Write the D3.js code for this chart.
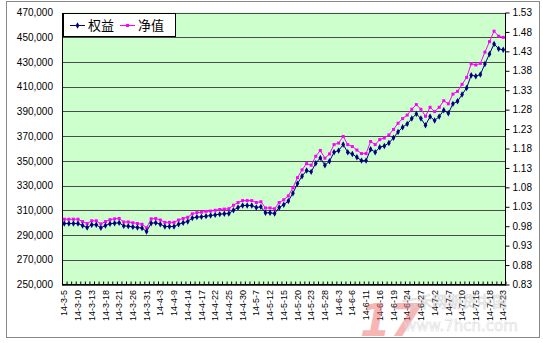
<!DOCTYPE html>
<html>
<head>
<meta charset="utf-8">
<script src="https://cdn.jsdelivr.net/npm/d3@7"></script>
<style>
body { margin: 0; background: #fff; }
svg { display: block; }
</style>
</head>
<body>
<svg id="chart" width="543" height="343"></svg>
<script>
// trading days (categories)
var dates = [
    "14-3-5", "14-3-6", "14-3-7", "14-3-10", "14-3-11", "14-3-12", "14-3-13", "14-3-14", "14-3-17", "14-3-18",
    "14-3-19", "14-3-20", "14-3-21", "14-3-24", "14-3-25", "14-3-26", "14-3-27", "14-3-28", "14-3-31",
    "14-4-1", "14-4-2", "14-4-3", "14-4-4", "14-4-8", "14-4-9", "14-4-10", "14-4-11", "14-4-14", "14-4-15",
    "14-4-16", "14-4-17", "14-4-18", "14-4-21", "14-4-22", "14-4-23", "14-4-24", "14-4-25", "14-4-28",
    "14-4-29", "14-4-30",
    "14-5-5", "14-5-6", "14-5-7", "14-5-8", "14-5-9", "14-5-12", "14-5-13", "14-5-14", "14-5-15", "14-5-16",
    "14-5-19", "14-5-20", "14-5-21", "14-5-22", "14-5-23", "14-5-26", "14-5-27", "14-5-28", "14-5-29", "14-5-30",
    "14-6-3", "14-6-4", "14-6-5", "14-6-6", "14-6-9", "14-6-10", "14-6-11", "14-6-12", "14-6-13", "14-6-16",
    "14-6-17", "14-6-18", "14-6-19", "14-6-20", "14-6-23", "14-6-24", "14-6-25", "14-6-26", "14-6-27", "14-6-30",
    "14-7-1", "14-7-2", "14-7-3", "14-7-4", "14-7-7", "14-7-8", "14-7-9", "14-7-10", "14-7-11", "14-7-14",
    "14-7-15", "14-7-16", "14-7-17", "14-7-18", "14-7-21", "14-7-22", "14-7-23"
];

// 权益 (left axis)
var equity = [
    299300, 299300, 299300, 299300, 297700, 296100, 298300, 298300, 295800, 297700,
    299100, 299600, 299900, 297400, 297200, 296600, 296100, 295600, 292900, 299600,
    299900, 298800, 296900, 296900, 296900, 298800, 299900, 301000, 303700, 304500,
    304700, 305300, 305800, 306300, 306900, 307200, 307400, 310100, 312300, 313900,
    313900, 313900, 312300, 312800, 308000, 308000, 307400, 312300, 314500, 317500,
    323800, 331600, 337600, 342200, 341100, 348100, 352400, 346500, 349700, 357000,
    358300, 363200, 357000, 355600, 352900, 350200, 350200, 359400, 357000, 361000,
    362100, 364500, 368600, 373400, 377200, 379900, 384200, 388000, 384200, 378800,
    385800, 382600, 385800, 391000, 388500, 396100, 398200, 403600, 409000, 419300,
    418500, 419800, 428400, 436500, 444600, 440600, 439800
];

// 净值 (right axis)
var nav = [
    0.998, 0.998, 0.998, 0.998, 0.992, 0.987, 0.994, 0.994, 0.986, 0.992,
    0.997, 0.999, 1.000, 0.991, 0.991, 0.989, 0.987, 0.985, 0.976, 0.999,
    1.000, 0.996, 0.990, 0.990, 0.990, 0.996, 1.000, 1.003, 1.012, 1.015,
    1.016, 1.018, 1.019, 1.021, 1.023, 1.024, 1.025, 1.034, 1.041, 1.046,
    1.046, 1.046, 1.041, 1.043, 1.027, 1.027, 1.025, 1.041, 1.048, 1.058,
    1.079, 1.105, 1.125, 1.141, 1.137, 1.160, 1.175, 1.155, 1.166, 1.190,
    1.194, 1.211, 1.190, 1.185, 1.176, 1.167, 1.167, 1.198, 1.190, 1.203,
    1.207, 1.215, 1.229, 1.245, 1.257, 1.266, 1.281, 1.293, 1.281, 1.263,
    1.286, 1.275, 1.286, 1.303, 1.295, 1.320, 1.327, 1.345, 1.363, 1.398,
    1.395, 1.399, 1.428, 1.455, 1.482, 1.469, 1.466
];

var leftTicks = [250000, 270000, 290000, 310000, 330000, 350000, 370000, 390000, 410000, 430000, 450000, 470000];
var rightTicks = [0.83, 0.88, 0.93, 0.98, 1.03, 1.08, 1.13, 1.18, 1.23, 1.28, 1.33, 1.38, 1.43, 1.48, 1.53];

var seriesNames = ["权益", "净值"];

var plotLeft = 62, plotRight = 505.5, plotTop = 12.5, plotBottom = 284.5;

var svg = d3.select("#chart");

// chart area border
svg.append("rect")
    .attr("x", 6.5).attr("y", 1.5)
    .attr("width", 533).attr("height", 336)
    .attr("fill", "#fff")
    .attr("stroke", "#888");

var x = d3.scalePoint().domain(dates).range([plotLeft, plotRight]).padding(0.5);
var yL = d3.scaleLinear().domain([250000, 470000]).range([plotBottom, plotTop]);
var yR = d3.scaleLinear().domain([0.83, 1.53]).range([plotBottom, plotTop]);

// plot background
svg.append("rect")
    .attr("x", plotLeft).attr("y", plotTop)
    .attr("width", plotRight - plotLeft).attr("height", plotBottom - plotTop)
    .attr("fill", "#ccffcc");

// grid
var grid = svg.append("g")
    .attr("transform", "translate(" + plotLeft + ",0)")
    .call(d3.axisLeft(yL).tickValues(leftTicks).tickSize(-(plotRight - plotLeft)).tickFormat(""));
grid.select(".domain").remove();
grid.selectAll("line").attr("stroke", "#4a4a4a").attr("shape-rendering", "crispEdges");

// left axis labels
var axL = svg.append("g")
    .attr("transform", "translate(" + plotLeft + ",0)")
    .call(d3.axisLeft(yL).tickValues(leftTicks).tickSize(0).tickPadding(9).tickFormat(d3.format(",")));
axL.select(".domain").remove();
axL.selectAll("text").attr("font-family", "Liberation Sans, Arial, sans-serif").attr("font-size", 10).attr("fill", "#000");

// right axis
var axR = svg.append("g")
    .attr("transform", "translate(" + plotRight + ",0)")
    .call(d3.axisRight(yR).tickValues(rightTicks).tickSize(4).tickPadding(3).tickFormat(d3.format(".2f")));
axR.select(".domain").remove();
axR.selectAll("line").attr("stroke", "#000");
axR.selectAll("text").attr("font-family", "Liberation Sans, Arial, sans-serif").attr("font-size", 10).attr("fill", "#000");

// category tick marks on bottom axis
var xb = d3.scaleLinear().domain([0, dates.length]).range([plotLeft, plotRight]);
var axB = svg.append("g")
    .attr("transform", "translate(0," + plotBottom + ")")
    .call(d3.axisBottom(xb).tickValues(d3.range(dates.length + 1)).tickSize(-3).tickFormat(""));
axB.select(".domain").remove();
axB.selectAll("line").attr("stroke", "#000");

// axis lines
svg.append("g").selectAll("line")
    .data([[plotLeft, plotTop, plotLeft, plotBottom], [plotLeft, plotBottom, plotRight, plotBottom], [plotRight, plotTop, plotRight, plotBottom]])
    .join("line")
    .attr("x1", function (d) { return d[0]; })
    .attr("y1", function (d) { return d[1]; })
    .attr("x2", function (d) { return d[2]; })
    .attr("y2", function (d) { return d[3]; })
    .attr("stroke", "#000")
    .attr("shape-rendering", "crispEdges");

// x labels, every third day
svg.append("g").selectAll("text")
    .data(dates.filter(function (d, i) { return i % 3 === 0; }))
    .join("text")
    .attr("transform", function (d) { return "translate(" + x(d) + "," + 290 + ") rotate(-90)"; })
    .attr("dy", "0.35em")
    .attr("text-anchor", "end")
    .attr("font-family", "Liberation Sans, Arial, sans-serif")
    .attr("font-size", 9)
    .text(function (d) { return d; });

// lines
var lineL = d3.line()
    .x(function (d, i) { return x(dates[i]); })
    .y(function (d) { return yL(d); });
var lineR = d3.line()
    .x(function (d, i) { return x(dates[i]); })
    .y(function (d) { return yR(d); });

svg.append("path")
    .datum(nav)
    .attr("fill", "none")
    .attr("stroke", "#ff00ff")
    .attr("stroke-width", 1)
    .attr("d", lineR);

svg.append("g").selectAll("path")
    .data(nav)
    .join("path")
    .attr("transform", function (d, i) { return "translate(" + x(dates[i]) + "," + yR(d) + ")"; })
    .attr("d", d3.symbol(d3.symbolSquare, 9))
    .attr("fill", "#ff00ff");

svg.append("path")
    .datum(equity)
    .attr("fill", "none")
    .attr("stroke", "#000080")
    .attr("stroke-width", 1)
    .attr("d", lineL);

svg.append("g").selectAll("path")
    .data(equity)
    .join("path")
    .attr("transform", function (d, i) { return "translate(" + x(dates[i]) + "," + yL(d) + ")"; })
    .attr("d", d3.symbol(d3.symbolDiamond, 12))
    .attr("fill", "#000080");

// legend
var legend = svg.append("g");
legend.append("rect")
    .attr("x", 63.5).attr("y", 13.5)
    .attr("width", 112).attr("height", 23)
    .attr("fill", "#fff")
    .attr("stroke", "#000");

var legendItems = [
    { name: seriesNames[0], color: "#000080", x0: 70, tx: 88, sym: d3.symbolDiamond, size: 12 },
    { name: seriesNames[1], color: "#ff00ff", x0: 120, tx: 138, sym: d3.symbolSquare, size: 9 }
];
legendItems.forEach(function (it) {
    legend.append("line")
        .attr("x1", it.x0).attr("x2", it.x0 + 15)
        .attr("y1", 25.5).attr("y2", 25.5)
        .attr("stroke", it.color);
    legend.append("path")
        .attr("transform", "translate(" + (it.x0 + 7.5) + ",25.5)")
        .attr("d", d3.symbol(it.sym, it.size))
        .attr("fill", it.color);
    legend.append("text")
        .attr("x", it.tx).attr("y", 30)
        .attr("font-family", "Noto Sans CJK SC, sans-serif")
        .attr("font-size", 13)
        .text(it.name);
});

// watermark
var wm = svg.append("g").attr("opacity", 0.5);
wm.append("text")
    .attr("x", 360).attr("y", 336)
    .attr("font-family", "DejaVu Sans, sans-serif")
    .attr("font-weight", "bold")
    .attr("font-style", "italic")
    .attr("font-size", 44)
    .attr("fill", "#f07070")
    .text("17");
wm.append("text")
    .attr("x", 402).attr("y", 307)
    .attr("font-family", "Noto Sans CJK SC, sans-serif")
    .attr("font-size", 15)
    .attr("fill", "none")
    .attr("stroke", "#aaa")
    .attr("stroke-width", 0.6)
    .text("七禾网期货中国");
wm.append("text")
    .attr("x", 404).attr("y", 331)
    .attr("font-family", "DejaVu Sans, sans-serif")
    .attr("font-size", 15)
    .attr("fill", "none")
    .attr("stroke", "#bbb")
    .attr("stroke-width", 0.6)
    .text("www.7hcn.com");
</script>
</body>
</html>
